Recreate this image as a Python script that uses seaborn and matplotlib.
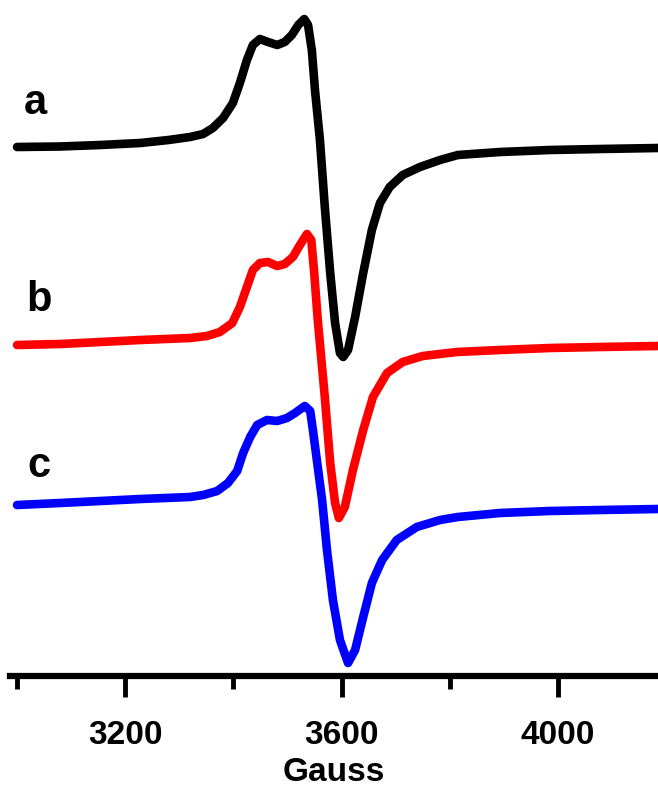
import numpy as np
import pandas as pd
import seaborn as sns
import matplotlib.pyplot as plt

# magnetic field (Gauss) and stacked EPR intensities (arb. units)
field_a = [3000, 3080, 3154, 3228, 3280, 3320, 3344, 3362, 3381, 3399, 3412, 3425,
           3436, 3449, 3464, 3481, 3495, 3508, 3520, 3531, 3538, 3545, 3551,
           3560, 3569, 3579, 3588, 3597, 3603, 3612, 3625, 3640, 3656, 3671, 3689,
           3713, 3745, 3782, 3815, 3893, 3985, 4078, 4185]
int_a = [529, 529.5, 531, 533, 536, 539, 542, 548, 558, 573, 593, 616,
         631, 637, 634, 631, 634, 641, 651, 657, 651, 626, 585,
         536, 469, 403, 353, 323, 319, 326, 359, 403, 446, 473, 489,
         501, 509, 516, 521, 524, 526, 527, 528]

field_b = [3000, 3080, 3154, 3228, 3320, 3351, 3375, 3398, 3412, 3425, 3436, 3449,
           3464, 3481, 3495, 3510, 3523, 3536, 3544, 3549, 3556, 3569, 3579, 3588,
           3595, 3606, 3621, 3640, 3658, 3684, 3713, 3750, 3813, 3893, 3985, 4078,
           4185]
int_b = [331, 332, 334, 336, 338, 340, 344, 353, 369, 389, 406, 413,
         414, 410, 412, 419, 431, 442, 436, 406, 356, 279, 213, 173,
         158, 169, 206, 246, 279, 303, 314, 320, 324, 326, 328, 329,
         330]

field_c = [3000, 3080, 3154, 3228, 3320, 3344, 3370, 3390, 3407, 3418, 3431, 3444,
           3462, 3481, 3499, 3514, 3532, 3542, 3547, 3555, 3564, 3573, 3584, 3597,
           3612, 3625, 3640, 3656, 3675, 3702, 3739, 3782, 3815, 3893, 3985, 4078,
           4185]
int_c = [171, 173, 175, 177, 179, 181, 185, 193, 205, 223, 239, 251,
         256, 255, 258, 263, 270, 265, 246, 213, 176, 126, 76, 36,
         13, 26, 59, 93, 116, 136, 149, 156, 159, 163, 165, 166,
         167]

labels = ["a", "b", "c"]
colors = ["black", "#ff0000", "#0000ff"]
label_pos = [(3034, 573), (3040, 376), (3040, 210)]

sns.set_style("white")
plt.rcParams["font.family"] = ["Liberation Sans", "DejaVu Sans"]
plt.rcParams["font.weight"] = "bold"
plt.rcParams["text.color"] = "black"
plt.rcParams["axes.labelcolor"] = "black"
plt.rcParams["xtick.color"] = "black"

fig = plt.figure(figsize=(6.58, 7.89), dpi=100)
ax = fig.add_axes([10 / 658, 113 / 789, 648 / 658, 676 / 789])

for fld, inten, col in zip([field_a, field_b, field_c], [int_a, int_b, int_c], colors):
    df = pd.DataFrame({"Gauss": fld, "I": inten})
    sns.lineplot(data=df, x="Gauss", y="I", color=col, lw=6.2, ax=ax,
                 sort=False, solid_capstyle="round", solid_joinstyle="round")

for lab, (xx, yy) in zip(labels, label_pos):
    ax.text(xx, yy, lab, fontsize=30, fontweight="bold", color="black",
            ha="center", va="center")

ax.set_xlim(2987, 4185)
ax.set_ylim(0, 676)
ax.set_yticks([])
ax.set_ylabel("")
for s in ["left", "right", "top"]:
    ax.spines[s].set_visible(False)
ax.spines["bottom"].set_linewidth(4.5)
ax.spines["bottom"].set_color("black")

ax.set_xticks([3200, 3600, 4000])
ax.set_xticks([3000, 3400, 3800], minor=True)
ax.tick_params(axis="x", which="major", direction="out", length=15, width=3.5,
               pad=17, labelsize=24, bottom=True, colors="black")
ax.tick_params(axis="x", which="minor", direction="out", length=9, width=3.5,
               bottom=True, colors="black")
for t in ax.get_xticklabels():
    t.set_fontweight("bold")
ax.set_xlabel("Gauss", fontsize=24, fontweight="bold", color="black", labelpad=4)

fig.savefig("out.png", dpi=100)
